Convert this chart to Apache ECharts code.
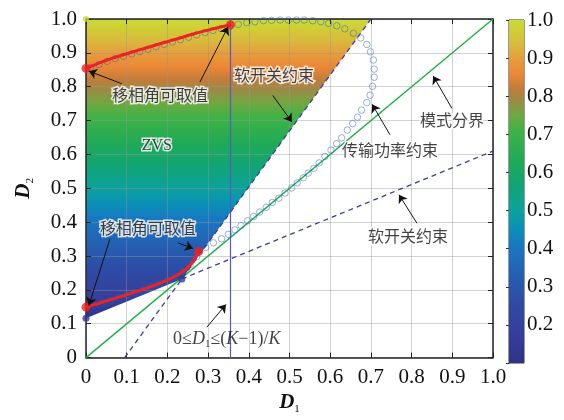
<!DOCTYPE html>
<html>
<head>
<meta charset="utf-8">
<script src="https://cdn.jsdelivr.net/npm/echarts@6/dist/echarts.min.js"></script>
<style>
  html, body { margin: 0; padding: 0; background: #fff; }
  #chart { width: 564px; height: 420px; }
</style>
</head>
<body>
<div id="chart"></div>
<script>
// ZVS operating region of the duty pair (D1, D2) with its constraint curves

// region boundary vertices (D1, D2)
const zvsRegion = [[0, 0.116], [0.2356, 0.2324], [0.70, 1.0], [0, 1.0]];
// soft-switching constraint lines
const softSwitchUpper = [[0.095, 0], [0.70, 1.0]];
const softSwitchLower = [[0.2356, 0.2324], [1.0, 0.61]];
// mode boundary D2 = D1
const modeBoundary = [[0, 0], [1, 1]];
// duty limit D1 = (K-1)/K
const dutyLimit = [[0.355, 0], [0.355, 1.0]];
// feasible phase-shift curves
const phaseUpper = [[0, 0.854], [0.026, 0.867], [0.067, 0.885], [0.11, 0.901], [0.149, 0.915],
  [0.19, 0.93], [0.231, 0.944], [0.27, 0.958], [0.313, 0.971], [0.355, 0.983]];
const phaseLower = [[0, 0.149], [0.05, 0.167], [0.1, 0.186], [0.15, 0.206], [0.2, 0.229],
  [0.22, 0.241], [0.245, 0.261], [0.262, 0.283], [0.277, 0.314]];
const phaseEnds = [[0, 0.854], [0.355, 0.983], [0, 0.149], [0.277, 0.314]];
// transmission-power constraint samples
const powerLoop = [
  [0.012, 0.857], [0.032, 0.866], [0.052, 0.875], [0.072, 0.883], [0.092, 0.890], [0.112, 0.897],
  [0.132, 0.904], [0.152, 0.911], [0.172, 0.918], [0.192, 0.925], [0.212, 0.932], [0.232, 0.939],
  [0.252, 0.946], [0.272, 0.953], [0.292, 0.960], [0.312, 0.966], [0.332, 0.972], [0.352, 0.977],
  [0.374, 0.984], [0.395, 0.989], [0.415, 0.992], [0.436, 0.995], [0.456, 0.996], [0.477, 0.997],
  [0.497, 0.997], [0.517, 0.997], [0.536, 0.997], [0.557, 0.995], [0.577, 0.992], [0.596, 0.987],
  [0.616, 0.980], [0.636, 0.971], [0.657, 0.958], [0.675, 0.944], [0.690, 0.925], [0.699, 0.903],
  [0.706, 0.879], [0.708, 0.852], [0.708, 0.828], [0.704, 0.801], [0.698, 0.775], [0.690, 0.753],
  [0.677, 0.731], [0.667, 0.710], [0.655, 0.691], [0.642, 0.672], [0.628, 0.649], [0.616, 0.632],
  [0.602, 0.613], [0.587, 0.594], [0.573, 0.575], [0.560, 0.559], [0.546, 0.545], [0.534, 0.531],
  [0.519, 0.516], [0.505, 0.501], [0.489, 0.486], [0.474, 0.471], [0.458, 0.458], [0.443, 0.444],
  [0.427, 0.430], [0.412, 0.417], [0.397, 0.404], [0.381, 0.390], [0.366, 0.377], [0.350, 0.364],
  [0.333, 0.351], [0.313, 0.339], [0.294, 0.325], [0.272, 0.298], [0.256, 0.275], [0.238, 0.255],
  [0.220, 0.241], [0.200, 0.228], [0.180, 0.218], [0.160, 0.209], [0.140, 0.200], [0.120, 0.192],
  [0.100, 0.184], [0.080, 0.176], [0.060, 0.169], [0.040, 0.161], [0.020, 0.154]
];
// region corner markers
const cornersLow = [[0, 0.116], [0.2356, 0.2324]];
const cornersHigh = [[0, 1.0]];
// colour scale range
const scaleMin = 0.1, scaleMax = 1.0;

// annotation texts, their anchors and pointer arrows
const noteText = ['移相角可取值', 'ZVS', '软开关约束', '传输功率约束', '模式分界', '软开关约束', '移相角可取值',
  '0≤{i|D}{s|1}≤({i|K}−1)/{i|K}'];
const noteAt = [[0.182, 0.777], [0.174, 0.626], [0.462, 0.835], [0.747, 0.612], [0.899, 0.701],
  [0.791, 0.359], [0.152, 0.383], [0.346, 0.055]];
const arrowSegments = [
  [[0.088, 0.809], [0.007, 0.846]],
  [[0.280, 0.814], [0.349, 0.977]],
  [[0.459, 0.774], [0.506, 0.696]],
  [[0.747, 0.658], [0.703, 0.748]],
  [[0.899, 0.736], [0.853, 0.832]],
  [[0.813, 0.397], [0.769, 0.481]],
  [[0.059, 0.351], [0.007, 0.154]],
  [[0.226, 0.339], [0.263, 0.322]],
  [[0.297, 0.090], [0.344, 0.157]]
];

// colormap (value -> colour)
const cmap = [
  [0.10, '#2f3387'], [0.18, '#353f9b'], [0.26, '#2e4ba5'], [0.34, '#2362b4'], [0.41, '#1878c2'],
  [0.45, '#0a8fb8'], [0.50, '#0ca29c'], [0.56, '#10a478'], [0.63, '#1faa58'], [0.71, '#3fb246'],
  [0.75, '#6fa842'], [0.79, '#9c8b44'], [0.82, '#c27c3a'], [0.86, '#ec8836'], [0.90, '#e59e3c'],
  [0.935, '#d9b93c'], [0.975, '#d0d034'], [1.00, '#c9da3c']
];

const serif = '"Liberation Serif", "Times New Roman", serif';
const cjk = '"Noto Sans CJK SC", sans-serif';
const AX = '#222';

function scaleGradient(api) {
  const yb = api.coord([0, scaleMin])[1];
  const yt = api.coord([0, scaleMax])[1];
  return new echarts.graphic.LinearGradient(0, yb, 0, yt,
    cmap.map(([v, c]) => ({ offset: (v - scaleMin) / (scaleMax - scaleMin), color: c })), true);
}

const tickFmt = v => (Math.abs(v) < 1e-9 ? '0' : v.toFixed(1));

function mainAxis(pos, labels) {
  return {
    type: 'value', gridIndex: 0, position: pos, min: 0, max: 1, interval: 0.1,
    axisLine: { show: true, onZero: false, lineStyle: { color: AX, width: 1.5 } },
    axisTick: { show: true, inside: true, length: 5, lineStyle: { color: AX, width: 1 } },
    axisLabel: { show: labels, formatter: tickFmt, fontFamily: serif, fontSize: 21, color: '#111', margin: 9 },
    splitLine: { show: labels, lineStyle: { color: 'rgba(150,150,150,0.42)', width: 1 } }
  };
}

const xMain = mainAxis('bottom', true);
xMain.name = '{d|D}{s|1}';
xMain.nameLocation = 'middle';
xMain.nameGap = 33;
xMain.nameTextStyle = { rich: {
  d: { fontFamily: serif, fontSize: 21, fontStyle: 'italic', fontWeight: 'bold', color: '#111', lineHeight: 24 },
  s: { fontFamily: serif, fontSize: 11, color: '#111', lineHeight: 12, verticalAlign: 'bottom' } } };
const yMain = mainAxis('left', true);
yMain.name = '{d|D}{s|2}';
yMain.nameLocation = 'middle';
yMain.nameGap = 50;
yMain.nameRotate = 90;
yMain.nameTextStyle = xMain.nameTextStyle;

const noteData = noteText.map((t, i) => {
  const item = { value: noteAt[i], label: { formatter: t } };
  if (i === 1) item.label = { formatter: t, fontFamily: serif, fontSize: 16 };
  if (i === 7) item.label = {
    formatter: t, fontFamily: serif, fontSize: 18, color: '#111', textBorderWidth: 0,
    rich: {
      i: { fontFamily: serif, fontSize: 18, fontStyle: 'italic', color: '#111', lineHeight: 22 },
      s: { fontFamily: serif, fontSize: 11, color: '#111', lineHeight: 12, verticalAlign: 'bottom' }
    }
  };
  return item;
});

const option = {
  animation: false,
  backgroundColor: '#fff',
  grid: [
    { left: 86, top: 19, width: 407, height: 345 },
    { left: 509, top: 20, width: 15, height: 343, show: true, borderColor: '#333', borderWidth: 1 }
  ],
  xAxis: [
    xMain,
    mainAxis('top', false),
    { type: 'value', gridIndex: 1, min: 0, max: 1, show: false }
  ],
  yAxis: [
    yMain,
    mainAxis('right', false),
    {
      type: 'value', gridIndex: 1, position: 'right', min: scaleMin, max: scaleMax, interval: 0.1,
      axisLine: { show: true, lineStyle: { color: '#333', width: 1 } },
      axisTick: { show: true, inside: true, length: 3, lineStyle: { color: '#333' } },
      axisLabel: {
        fontFamily: serif, fontSize: 21, color: '#111', margin: 3,
        formatter: v => (Math.abs(v - scaleMin) < 1e-6 ? '' : v.toFixed(1))
      },
      splitLine: { show: false }
    }
  ],
  series: [
    {
      type: 'custom', xAxisIndex: 0, yAxisIndex: 0, z: -1, silent: true,
      data: [[0, 0]],
      renderItem: (params, api) => ({
        type: 'polygon',
        shape: { points: zvsRegion.map(p => api.coord(p)) },
        style: { fill: scaleGradient(api) }
      })
    },
    {
      type: 'custom', xAxisIndex: 2, yAxisIndex: 2, silent: true,
      data: [[0, 0]],
      renderItem: (params, api) => {
        const a = api.coord([0, scaleMax]);
        const b = api.coord([1, scaleMin]);
        return {
          type: 'rect',
          shape: { x: a[0], y: a[1], width: b[0] - a[0], height: b[1] - a[1] },
          style: { fill: scaleGradient(api) }
        };
      }
    },
    {
      type: 'line', data: modeBoundary, showSymbol: false, silent: true, z: 3,
      lineStyle: { color: '#1fb043', width: 1.4 }
    },
    {
      type: 'line', data: softSwitchUpper, showSymbol: false, silent: true, z: 3,
      lineStyle: { color: '#3a3c9e', width: 1.3, type: [5, 4] }
    },
    {
      type: 'line', data: softSwitchLower, showSymbol: false, silent: true, z: 3,
      lineStyle: { color: '#3a3c9e', width: 1.3, type: [5, 4] }
    },
    {
      type: 'line', data: dutyLimit, showSymbol: false, silent: true, z: 3,
      lineStyle: { color: '#5b55c8', width: 1.2 }
    },
    {
      type: 'scatter', data: powerLoop, symbol: 'circle', symbolSize: 6.5, silent: true, z: 4,
      itemStyle: { color: 'rgba(0,0,0,0)', borderColor: 'rgba(45,95,185,0.62)', borderWidth: 1 }
    },
    {
      type: 'line', data: phaseUpper, smooth: 0.3, showSymbol: false, silent: true, z: 5,
      lineStyle: { color: '#ee2222', width: 3 }
    },
    {
      type: 'line', data: phaseLower, smooth: 0.3, showSymbol: false, silent: true, z: 5,
      lineStyle: { color: '#ee2222', width: 3 }
    },
    {
      type: 'scatter', data: phaseEnds, symbolSize: 9, silent: true, z: 6,
      itemStyle: { color: '#ee2222' }
    },
    {
      type: 'scatter', data: cornersLow, symbolSize: 7, silent: true, z: 6,
      itemStyle: { color: '#2f3a95' }
    },
    {
      type: 'scatter', data: cornersHigh, symbolSize: 6, silent: true, z: 6,
      itemStyle: { color: '#c9da3c' }
    },
    {
      type: 'lines', coordinateSystem: 'cartesian2d', silent: true, z: 7,
      symbol: ['none', 'arrow'], symbolSize: 8,
      lineStyle: { color: '#111', width: 1, opacity: 1 },
      data: arrowSegments.map(c => ({ coords: c }))
    },
    {
      type: 'scatter', data: noteData, symbolSize: 1, silent: true, z: 8,
      itemStyle: { color: 'rgba(0,0,0,0)' },
      label: {
        show: true, position: 'inside', fontFamily: cjk, fontSize: 16, color: '#111',
        textBorderColor: '#fff', textBorderWidth: 3
      }
    }
  ]
};

const chart = echarts.init(document.getElementById('chart'), null, { renderer: 'canvas' });
chart.setOption(option);
</script>
</body>
</html>
